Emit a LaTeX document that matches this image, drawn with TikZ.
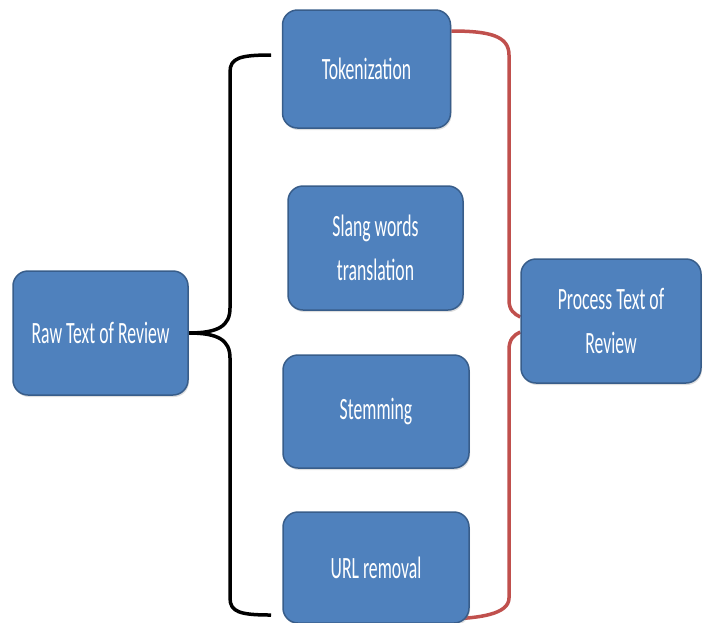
\documentclass[tikz,border=0pt]{standalone}
\usepackage{fontspec}
\setmainfont[FakeStretch=0.57]{Carlito}
\usetikzlibrary{shapes,shadows,backgrounds}
\definecolor{boxblue}{RGB}{79,129,189}
\definecolor{boxedge}{RGB}{56,93,138}
\definecolor{bracered}{RGB}{192,80,77}

\begin{document}
\begin{tikzpicture}[
    x=1pt, y=-1pt,
    stepbox/.style={rectangle, draw=boxedge, line width=1.5pt, fill=boxblue, rounded corners=15pt, text=white, align=center, font=\fontsize{31}{44}\selectfont, drop shadow={opacity=0.25, shadow xshift=1pt, shadow yshift=-2pt}},
    blackbrace/.style={draw=black, line width=3.5pt},
    redbrace/.style={draw=bracered, line width=3.5pt}
]
\useasboundingbox (0,0) rectangle (706,622);

% Input
\node[stepbox, minimum width=175pt, minimum height=124pt] (raw) at (100.5,333) {Raw Text of Review};

% Preprocessing steps
\node[stepbox, minimum width=168pt, minimum height=118pt] (token) at (366.5,69) {Tokenization};
\node[stepbox, minimum width=175pt, minimum height=124pt] (slang) at (375.5,248) {Slang words\\translation};
\node[stepbox, minimum width=186pt, minimum height=113pt] (stem) at (376,411.5) {Stemming};
\node[stepbox, minimum width=186pt, minimum height=111pt] (url) at (376,567.5) {URL removal};

% Output
\node[stepbox, minimum width=180pt, minimum height=124pt] (proc) at (611,321) {Process Text of\\Review};

% Brace ends
\coordinate (tokhook) at (271,55);
\coordinate (urlhook) at (271,615);
\coordinate (tokred) at (token.east |- 0,31);
\coordinate (urlred) at (450,619);
\coordinate (procup) at (proc.west |- 0,317);
\coordinate (proclow) at (proc.west |- 0,332);

% Left brace
\begin{scope}[on background layer]
\draw[blackbrace] (raw.east) .. controls (218,333) and (230,326) .. (230,308) -- (230,72) .. controls (230,58) and (240,55) .. (tokhook);
\draw[blackbrace] (raw.east) .. controls (218,333) and (230,340) .. (230,358) -- (230,598) .. controls (230,612) and (240,615) .. (urlhook);

% Right brace
\draw[redbrace] (tokred) .. controls (490,31) and (509,36) .. (509,55) -- (509,300) .. controls (509,310) and (514,314) .. (procup);
\draw[redbrace] (proclow) .. controls (514,335) and (509,339) .. (509,350) -- (509,598) .. controls (509,614) and (480,618) .. (urlred);
\end{scope}

\end{tikzpicture}
\end{document}
